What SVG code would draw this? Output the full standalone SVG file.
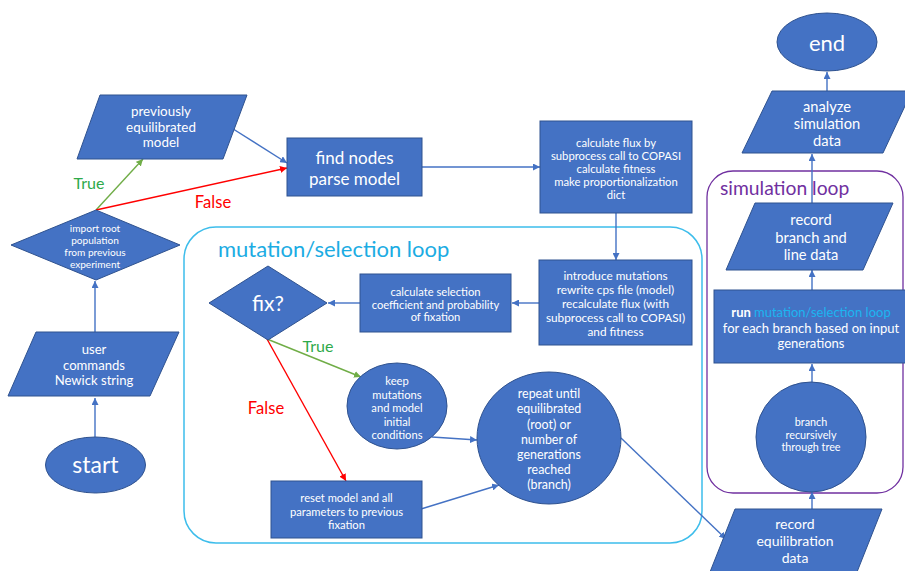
<svg xmlns="http://www.w3.org/2000/svg" width="905" height="571" viewBox="0 0 905 571">
<style>
.n{fill:#4472C4;stroke:#2F528F;stroke-width:1}
.t{fill:#fff;font-family:Lato,"Open Sans",sans-serif;text-anchor:middle;dominant-baseline:central}
.c{fill:none;stroke:#4472C4;stroke-width:1.4}
.g{fill:none;stroke:#70AD47;stroke-width:1.4}
.r{fill:none;stroke:#FF0000;stroke-width:1.4}
.lbl{font-family:Lato,"Open Sans",sans-serif;text-anchor:middle;dominant-baseline:central}
</style>
<defs>
<marker id="ab" viewBox="0 0 10 10" refX="10" refY="5" markerWidth="7" markerHeight="7" markerUnits="userSpaceOnUse" orient="auto"><path d="M0,0L10,5L0,10z" fill="#4472C4"/></marker>
<marker id="ag" viewBox="0 0 10 10" refX="10" refY="5" markerWidth="7" markerHeight="7" markerUnits="userSpaceOnUse" orient="auto"><path d="M0,0L10,5L0,10z" fill="#70AD47"/></marker>
<marker id="ar" viewBox="0 0 10 10" refX="10" refY="5" markerWidth="7" markerHeight="7" markerUnits="userSpaceOnUse" orient="auto"><path d="M0,0L10,5L0,10z" fill="#FF0000"/></marker>
</defs>
<rect width="905" height="571" fill="#fff"/>
<g id="mutation-loop">
<rect x="184" y="227" width="518" height="316" rx="32" fill="none" stroke="#3DBDEB" stroke-width="1.5"/>
<text x="218" y="248" font-family="Lato,'Open Sans',sans-serif" font-size="22" fill="#1CACE3" dominant-baseline="central">mutation/selection loop</text>
</g>
<g id="simulation-loop">
<rect x="707" y="171" width="196" height="322" rx="26" fill="none" stroke="#7030A0" stroke-width="1.3"/>
<text x="720" y="187" font-family="Lato,'Open Sans',sans-serif" font-size="19.3" fill="#7030A0" dominant-baseline="central">simulation loop</text>
</g>
<g id="connectors">
<path class="c" d="M95,437V398" marker-end="url(#ab)"/>
<path class="c" d="M95,332V281" marker-end="url(#ab)"/>
<path class="g" d="M96,210L143,159" marker-end="url(#ag)"/>
<path class="r" d="M96,210L287,168" marker-end="url(#ar)"/>
<path class="c" d="M230,127L287,163" marker-end="url(#ab)"/>
<path class="c" d="M422,167H540" marker-end="url(#ab)"/>
<path class="c" d="M616,213V260" marker-end="url(#ab)"/>
<path class="c" d="M539,303H512" marker-end="url(#ab)"/>
<path class="c" d="M360,303H328" marker-end="url(#ab)"/>
<path class="g" d="M267,339L361,377" marker-end="url(#ag)"/>
<path class="r" d="M267,339L346,481" marker-end="url(#ar)"/>
<path class="c" d="M432,437L477,440" marker-end="url(#ab)"/>
<path class="c" d="M421,509L499,485" marker-end="url(#ab)"/>
<path class="c" d="M621,438L726,539" marker-end="url(#ab)"/>
<path class="c" d="M812,509V492" marker-end="url(#ab)"/>
<path class="c" d="M812,382V364" marker-end="url(#ab)"/>
<path class="c" d="M812,290V270" marker-end="url(#ab)"/>
<path class="c" d="M812,203V154" marker-end="url(#ab)"/>
<path class="c" d="M827,91V72" marker-end="url(#ab)"/>
<text class="lbl" x="89" y="182" font-size="16" fill="#2EAA4A">True</text>
<text class="lbl" x="213" y="202" font-size="16.6" fill="#FF0000">False</text>
<text class="lbl" x="318" y="345" font-size="16" fill="#2EAA4A">True</text>
<text class="lbl" x="266" y="408" font-size="16.6" fill="#FF0000">False</text>
</g>
<g id="start">
<ellipse class="n" cx="95.5" cy="465" rx="50" ry="28"/>
<text class="t" x="95.5" y="464" font-size="23">start</text>
</g>
<g id="user-commands">
<polygon class="n" points="36,332 179,332 150,396 8,396"/>
<text class="t" font-size="13.1"><tspan x="94" y="349">user</tspan><tspan x="94" y="365">commands</tspan><tspan x="94" y="380">Newick string</tspan></text>
</g>
<g id="import-root">
<polygon class="n" points="11,245 96,210 180,245 96,280"/>
<text class="t" font-size="10.1"><tspan x="95" y="228">import root</tspan><tspan x="95" y="240">population</tspan><tspan x="95" y="252">from previous</tspan><tspan x="95" y="263.5">experiment</tspan></text>
</g>
<g id="previously-equilibrated">
<polygon class="n" points="100,95 247,95 223,159 77,159"/>
<text class="t" font-size="13.4"><tspan x="161" y="111">previously</tspan><tspan x="161" y="126.5">equilibrated</tspan><tspan x="161" y="142">model</tspan></text>
</g>
<g id="find-nodes">
<rect class="n" x="287" y="138" width="135" height="58"/>
<text class="t" font-size="17"><tspan x="354.5" y="157">find nodes</tspan><tspan x="354.5" y="178">parse model</tspan></text>
</g>
<g id="calculate-flux">
<rect class="n" x="540" y="121" width="152" height="92"/>
<text class="t" font-size="11.3"><tspan x="616" y="141.5">calculate flux by</tspan><tspan x="616" y="154.5">subprocess call to COPASI</tspan><tspan x="616" y="167.5">calculate fitness</tspan><tspan x="616" y="180.5">make proportionalization</tspan><tspan x="616" y="193.5">dict</tspan></text>
</g>
<g id="introduce-mutations">
<rect class="n" x="539" y="260" width="153" height="85"/>
<text class="t" font-size="11.8"><tspan x="615.5" y="274.5">introduce mutations</tspan><tspan x="615.5" y="288.5">rewrite cps file (model)</tspan><tspan x="615.5" y="302.5">recalculate flux (with</tspan><tspan x="615.5" y="316.5">subprocess call to COPASI)</tspan><tspan x="615.5" y="330.5">and fitness</tspan></text>
</g>
<g id="calculate-selection">
<rect class="n" x="360" y="274" width="151" height="58"/>
<text class="t" font-size="11.2"><tspan x="435.5" y="291">calculate selection</tspan><tspan x="435.5" y="303.5">coefficient and probability</tspan><tspan x="435.5" y="316">of fixation</tspan></text>
</g>
<g id="fix">
<polygon class="n" points="209,303 268,266 327,303 268,340"/>
<text class="t" x="268" y="302" font-size="21">fix?</text>
</g>
<g id="keep-mutations">
<ellipse class="n" cx="397" cy="406" rx="50" ry="43"/>
<text class="t" font-size="11.2"><tspan x="397" y="380">keep</tspan><tspan x="397" y="393.5">mutations</tspan><tspan x="397" y="407">and model</tspan><tspan x="397" y="420.5">initial</tspan><tspan x="397" y="434">conditions</tspan></text>
</g>
<g id="reset-model">
<rect class="n" x="271" y="481" width="151" height="57"/>
<text class="t" font-size="11.2"><tspan x="346.5" y="497">reset model and all</tspan><tspan x="346.5" y="510.5">parameters to previous</tspan><tspan x="346.5" y="524">fixation</tspan></text>
</g>
<g id="repeat-until">
<ellipse class="n" cx="549" cy="438" rx="72" ry="66"/>
<text class="t" font-size="12.4"><tspan x="549" y="393">repeat until</tspan><tspan x="549" y="408">equilibrated</tspan><tspan x="549" y="423.5">(root) or</tspan><tspan x="549" y="438.5">number of</tspan><tspan x="549" y="453.5">generations</tspan><tspan x="549" y="468.5">reached</tspan><tspan x="549" y="483.5">(branch)</tspan></text>
</g>
<g id="record-equilibration">
<polygon class="n" points="735,509 882,509 857,572 710,572"/>
<text class="t" font-size="14"><tspan x="795" y="523">record</tspan><tspan x="795" y="540">equilibration</tspan><tspan x="795" y="557">data</tspan></text>
</g>
<g id="branch-recursively">
<ellipse class="n" cx="811" cy="437" rx="55" ry="55"/>
<text class="t" font-size="10.8"><tspan x="811" y="421">branch</tspan><tspan x="811" y="433.5">recursively</tspan><tspan x="811" y="446">through tree</tspan></text>
</g>
<g id="run-loop">
<rect class="n" x="714" y="290" width="196" height="73"/>
<text class="t" font-size="13"><tspan x="811" y="312"><tspan font-weight="bold">run </tspan><tspan fill="#1CB5F0">mutation/selection loop</tspan></tspan><tspan x="811" y="328">for each branch based on input</tspan><tspan x="811" y="343">generations</tspan></text>
</g>
<g id="record-branch">
<polygon class="n" points="755,203 893,203 863,270 726,270"/>
<text class="t" font-size="14.7"><tspan x="811" y="219">record</tspan><tspan x="811" y="237">branch and</tspan><tspan x="811" y="254">line data</tspan></text>
</g>
<g id="analyze">
<polygon class="n" points="772,91 912,91 883,153 742,153"/>
<text class="t" font-size="14.7"><tspan x="827" y="106">analyze</tspan><tspan x="827" y="123">simulation</tspan><tspan x="827" y="140">data</tspan></text>
</g>
<g id="end">
<ellipse class="n" cx="827" cy="42" rx="50" ry="29"/>
<text class="t" x="827" y="42" font-size="22">end</text>
</g>
</svg>
